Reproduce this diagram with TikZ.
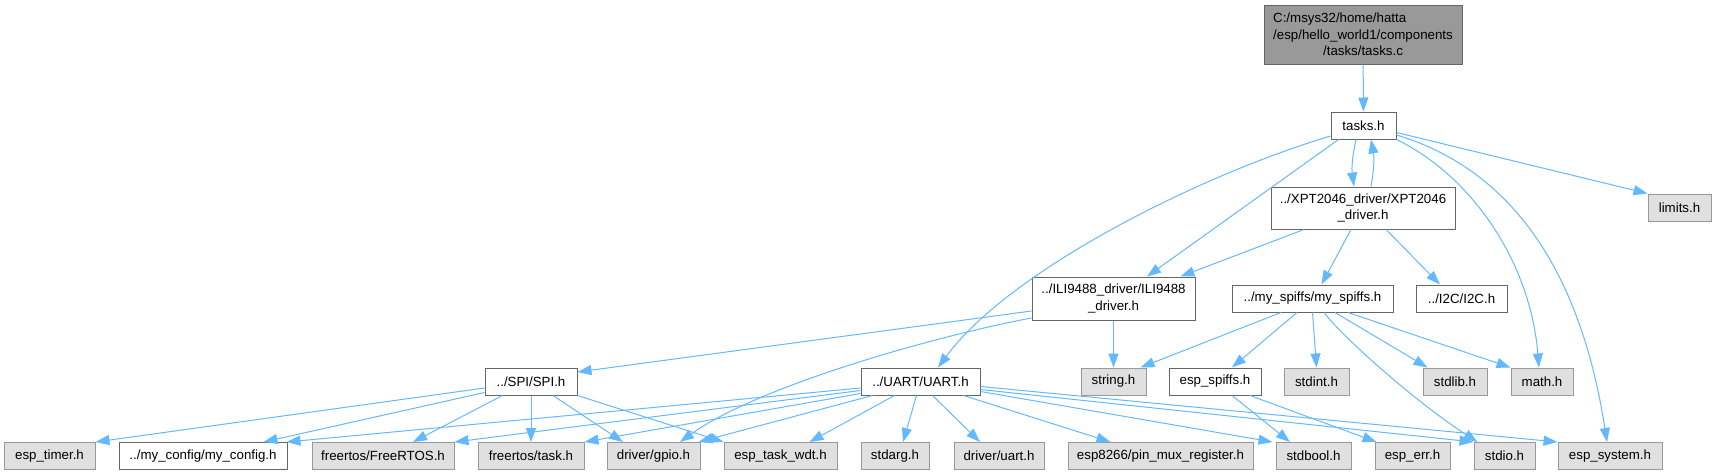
\documentclass[tikz,border=0pt]{standalone}
\usepackage{fontspec}
\setmainfont{Liberation Sans}
\definecolor{edgeblue}{RGB}{99,184,255}
\definecolor{frame}{RGB}{102,102,102}
\definecolor{sysframe}{RGB}{153,153,153}
\definecolor{sysfill}{RGB}{224,224,224}
\definecolor{mainfill}{RGB}{153,153,153}
\usetikzlibrary{arrows.meta}
\tikzset{
  hdr/.style={draw=frame, fill=white, line width=1pt, inner sep=0pt,
              font=\fontsize{13.3pt}{16.3pt}\selectfont, align=center, minimum height=27pt},
  syshdr/.style={hdr, draw=sysframe, fill=sysfill},
  mainhdr/.style={hdr, fill=mainfill},
  dep/.style={-{Triangle[length=14pt,width=10pt]}, edgeblue, line width=1pt},
}
\begin{document}
\begin{tikzpicture}[x=1pt,y=-1pt]
    \useasboundingbox (0,0) rectangle (1716,475);
    % --- top: the file, its header and the touch driver ---
    \node[mainhdr,minimum width=198pt,minimum height=59pt] (tasksc) at (1363,34.5)
      {\rlap{C:/msys32/home/hatta}\phantom{/esp/hello\_world1/components}\\/esp/hello\_world1/components\\/tasks/tasks.c};
    \node[hdr,minimum width=65pt] (tasksh) at (1363.5,125.5) {tasks.h};
    \node[hdr,minimum width=184pt,minimum height=42pt] (xpt) at (1363,208) {../XPT2046\_driver/XPT2046\\\_driver.h};
    \node[syshdr,minimum width=63pt] (limits) at (1679.5,207.5) {limits.h};
    % --- row 2 ---
    \node[hdr,minimum width=163pt,minimum height=43pt] (ili) at (1113.5,298.5) {../ILI9488\_driver/ILI9488\\\_driver.h};
    \node[hdr,minimum width=161pt] (myspiffs) at (1312.5,298.5) {../my\_spiffs/my\_spiffs.h};
    \node[hdr,minimum width=91pt] (i2c) at (1461.5,298.5) {../I2C/I2C.h};
    % --- row 3 ---
    \node[hdr,minimum width=92pt] (spi) at (531,381.5) {../SPI/SPI.h};
    \node[hdr,minimum width=119pt] (uart) at (920.5,381.5) {../UART/UART.h};
    \node[syshdr,minimum width=65pt] (string) at (1113.5,381.5) {string.h};
    \node[hdr,minimum width=92pt] (espspiffs) at (1215,381.5) {esp\_spiffs.h};
    \node[syshdr,minimum width=65pt] (stdint) at (1316.5,381.5) {stdint.h};
    \node[syshdr,minimum width=64pt] (stdlib) at (1455,381.5) {stdlib.h};
    \node[syshdr,minimum width=62pt] (math) at (1542,381.5) {math.h};
    % --- bottom row ---
    \node[syshdr,minimum width=91pt] (esptimer) at (49.5,456) {esp\_timer.h};
    \node[hdr,minimum width=168pt] (myconfig) at (203,456) {../my\_config/my\_config.h};
    \node[syshdr,minimum width=142pt] (freertos) at (383,456) {freertos/FreeRTOS.h};
    \node[syshdr,minimum width=106pt] (task) at (531,456) {freertos/task.h};
    \node[syshdr,minimum width=93pt] (gpio) at (653.5,456) {driver/gpio.h};
    \node[syshdr,minimum width=113pt] (taskwdt) at (780.5,456) {esp\_task\_wdt.h};
    \node[syshdr,minimum width=68pt] (stdarg) at (895,456) {stdarg.h};
    \node[syshdr,minimum width=90pt] (driveruart) at (999,456) {driver/uart.h};
    \node[syshdr,minimum width=185pt] (pinmux) at (1160.5,456) {esp8266/pin\_mux\_register.h};
    \node[syshdr,minimum width=75pt] (stdbool) at (1313.5,456) {stdbool.h};
    \node[syshdr,minimum width=75pt] (esperr) at (1412.5,456) {esp\_err.h};
    \node[syshdr,minimum width=61pt] (stdio) at (1504.5,456) {stdio.h};
    \node[syshdr,minimum width=104pt] (espsystem) at (1610,456) {esp\_system.h};
    % --- tasks.c / tasks.h ---
    \draw[dep] (tasksc) -- (tasksh);
    \draw[dep] ([xshift=-7.5pt]tasksh.south) to[bend right=10] ([xshift=-9pt]xpt.north);
    \draw[dep] ([xshift=8pt]xpt.north) to[bend right=10] ([xshift=7.5pt]tasksh.south);
    \draw[dep] ([yshift=-7pt]tasksh.east) -- (limits.north west);
    \draw[dep] ([xshift=8pt]tasksh.south west) -- ([xshift=33.5pt]ili.north);
    \draw[dep] ([yshift=-10.5pt]tasksh.west) .. controls (1200,175) and (1010,270) .. ([xshift=17.5pt]uart.north);
    \draw[dep] (tasksh.south east) .. controls (1470,175) and (1530,260) .. ([xshift=-3pt]math.north);
    \draw[dep] ([yshift=-9.5pt]tasksh.east) .. controls (1530,175) and (1585,300) .. ([xshift=-3pt]espsystem.north);
    % --- touch driver ---
    \draw[dep] ([xshift=-59pt]xpt.south) -- ([xshift=-15pt]ili.north east);
    \draw[dep] ([xshift=-12pt]xpt.south) -- ([xshift=9pt]myspiffs.north);
    \draw[dep] ([xshift=23pt]xpt.south) -- ([xshift=-21.5pt]i2c.north);
    % --- display driver ---
    \draw[dep] ([yshift=-12.5pt]ili.west) -- ([yshift=9.5pt]spi.east);
    \draw[dep] ([yshift=-19.5pt]ili.west) .. controls (940,335) and (760,385) .. ([xshift=26.5pt]gpio.north);
    \draw[dep] (ili.south) -- (string.north);
    % --- spiffs ---
    \draw[dep] ([xshift=-31.5pt]myspiffs.south) -- ([xshift=-6pt]string.north east);
    \draw[dep] ([xshift=-15.5pt]myspiffs.south) -- ([xshift=17pt]espspiffs.north);
    \draw[dep] (myspiffs.south) -- (stdint.north);
    \draw[dep] ([xshift=11.5pt]myspiffs.south) .. controls (1345,340) and (1420,405) .. ([xshift=4pt]stdio.north west);
    \draw[dep] ([xshift=22.5pt]myspiffs.south) -- ([xshift=5pt]stdlib.north west);
    \draw[dep] ([xshift=35.5pt]myspiffs.south) -- (math.north west);
    \draw[dep] ([xshift=17pt]espspiffs.south) -- ([xshift=-23.5pt]stdbool.north);
    \draw[dep] ([xshift=35pt]espspiffs.south) -- ([xshift=2pt]esperr.north west);
    % --- SPI ---
    \draw[dep] ([yshift=-6.5pt]spi.west) -- (esptimer.north east);
    \draw[dep] ([yshift=-11pt]spi.west) -- ([xshift=-24pt]myconfig.north east);
    \draw[dep] ([xshift=18pt]spi.south west) -- ([xshift=30pt]freertos.north);
    \draw[dep] (spi.south) -- (task.north);
    \draw[dep] ([xshift=22pt]spi.south) -- ([xshift=-30.5pt]gpio.north);
    \draw[dep] (spi.south east) -- (taskwdt.north west);
    % --- UART ---
    \draw[dep] ([yshift=-6.5pt]uart.west) -- ([xshift=-1pt]myconfig.north east);
    \draw[dep] ([yshift=-9pt]uart.west) -- (freertos.north east);
    \draw[dep] ([yshift=-12pt]uart.west) -- (task.north east);
    \draw[dep] ([xshift=12pt]uart.south west) -- ([xshift=-2pt]gpio.north east);
    \draw[dep] ([xshift=34pt]uart.south west) -- ([xshift=86pt]taskwdt.north west);
    \draw[dep] ([xshift=-4pt]uart.south) -- ([xshift=8pt]stdarg.north);
    \draw[dep] ([xshift=12pt]uart.south) -- ([xshift=-19pt]driveruart.north);
    \draw[dep] ([xshift=-17pt]uart.south east) -- ([xshift=-50pt]pinmux.north);
    \draw[dep] ([yshift=-10pt]uart.east) -- ([xshift=-3pt]stdbool.north west);
    \draw[dep] ([yshift=-8pt]uart.east) -- (stdio.north west);
    \draw[dep] ([yshift=-5pt]uart.east) -- (espsystem.north west);
\end{tikzpicture}
\end{document}
